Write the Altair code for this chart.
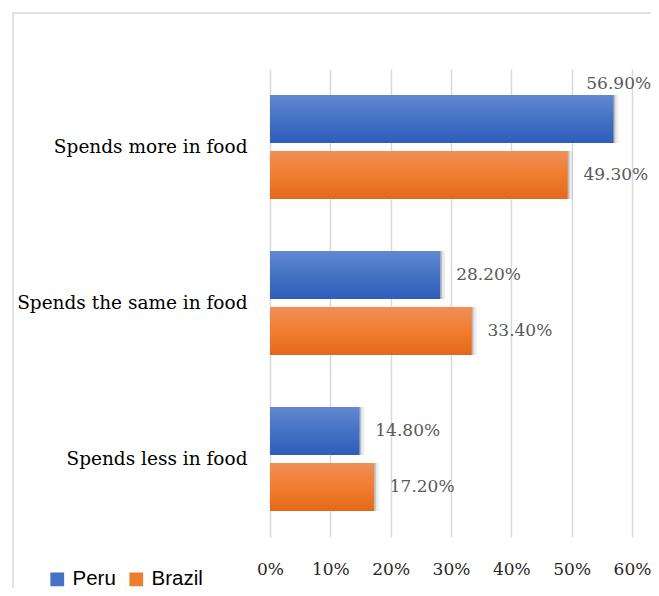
import altair as alt
import pandas as pd

categories = ["Spends more in food", "Spends the same in food", "Spends less in food"]
series = ["Peru", "Brazil"]
peru = [56.9, 28.2, 14.8]
brazil = [49.3, 33.4, 17.2]
x_ticks = [0, 10, 20, 30, 40, 50, 60]
colors = ["#4472C4", "#ED7D31"]

rows = []
for c, p, b in zip(categories, peru, brazil):
    rows.append({"category": c, "series": "Peru", "value": p})
    rows.append({"category": c, "series": "Brazil", "value": b})
df = pd.DataFrame(rows)

SERIF = "DejaVu Serif"

x = alt.X(
    "value:Q",
    scale=alt.Scale(domain=[0, 60], nice=False),
    axis=alt.Axis(
        values=x_ticks, labelExpr="datum.value + '%'", title=None, ticks=False,
        domain=False, grid=True, gridColor="#d9d9d9", gridWidth=1.5,
        labelFont=SERIF, labelFontSize=17, labelColor="#262626", labelPadding=24,
        labelFlush=False, labelOverlap=False, labelBound=False,
    ),
)
y = alt.Y(
    "category:N", sort=categories,
    scale=alt.Scale(domain=categories, paddingInner=1 / 3, paddingOuter=1 / 6),
    axis=alt.Axis(
        title=None, ticks=False, domain=False, labelFont=SERIF, labelFontSize=18.5,
        labelColor="#000000", labelPadding=23, labelLimit=300,
    ),
)
yoff = alt.YOffset(
    "series:N", sort=series,
    scale=alt.Scale(domain=series, paddingInner=8 / 56, paddingOuter=0),
)

base = alt.Chart(df).encode(x=x, y=y, yOffset=yoff)

legend_bars = base.mark_bar().encode(
    color=alt.Color(
        "series:N", sort=series,
        scale=alt.Scale(domain=series, range=colors),
        legend=alt.Legend(
            orient="none", legendX=-223, legendY=500, direction="horizontal",
            title=None, symbolType="square", symbolSize=190, symbolStrokeWidth=0,
            labelFont="Liberation Sans", labelFontSize=20.5, labelColor="#000000",
            labelOffset=5, columnPadding=10,
        ),
    )
)

shadow1 = base.mark_bar(color="#000000", opacity=0.08, xOffset=5, yOffset=6)
shadow2 = base.mark_bar(color="#000000", opacity=0.20, xOffset=2, yOffset=3)

blue_grad = alt.Gradient(
    gradient="linear", x1=0, x2=0, y1=0, y2=1,
    stops=[alt.GradientStop(color="#6088D2", offset=0),
           alt.GradientStop(color="#4472C4", offset=0.5),
           alt.GradientStop(color="#2D5DBB", offset=1)],
)
orange_grad = alt.Gradient(
    gradient="linear", x1=0, x2=0, y1=0, y2=1,
    stops=[alt.GradientStop(color="#F18E57", offset=0),
           alt.GradientStop(color="#F07D2E", offset=0.5),
           alt.GradientStop(color="#E5681A", offset=1)],
)
peru_bars = base.transform_filter(alt.datum.series == "Peru").mark_bar(color=blue_grad)
brazil_bars = base.transform_filter(alt.datum.series == "Brazil").mark_bar(color=orange_grad)

label_base = base.transform_calculate(lbl="format(datum.value, '.2f') + '%'")
labels_right = label_base.transform_filter(alt.datum.value <= 55).mark_text(
    align="left", baseline="middle", dx=16, font=SERIF, fontSize=17, color="#595959"
).encode(text="lbl:N")
labels_top = label_base.transform_filter(alt.datum.value > 55).mark_text(
    align="left", baseline="middle", dx=-27, dy=-35, font=SERIF, fontSize=17, color="#595959"
).encode(text="lbl:N")

border = alt.Chart(pd.DataFrame({"a": [0]})).mark_rect(
    fillOpacity=0, stroke="#d9d9d9", strokeWidth=1.5
).encode(x=alt.value(-257), x2=alt.value(600), y=alt.value(-56), y2=alt.value(700))

chart = alt.layer(
    border, shadow1, shadow2, legend_bars, peru_bars, brazil_bars, labels_right, labels_top
).properties(
    width=362, height=468,
    autosize=alt.AutoSizeParams(type="none"),
    padding={"left": 262, "top": 61, "right": 19, "bottom": 51},
    background="white",
).configure_view(strokeWidth=0)

chart.save("out.html", embed_options={"renderer": "svg", "actions": False})
